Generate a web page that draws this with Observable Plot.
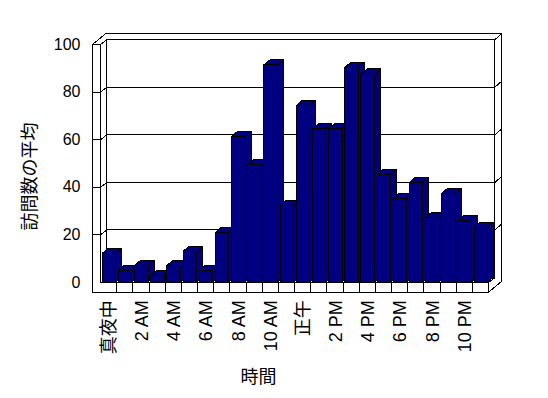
<!DOCTYPE html>
<html>
<head>
<meta charset="utf-8">
<script src="https://cdn.jsdelivr.net/npm/d3@7"></script>
<script src="https://cdn.jsdelivr.net/npm/@observablehq/plot@0.6"></script>
<style>
  html, body { margin: 0; padding: 0; background: #fff; }
  #chart svg { display: block; }
</style>
</head>
<body>
<div id="chart"></div>
<script>
// ---- data ----
const hours = ["真夜中","1 AM","2 AM","3 AM","4 AM","5 AM","6 AM","7 AM","8 AM","9 AM","10 AM","11 AM",
               "正午","1 PM","2 PM","3 PM","4 PM","5 PM","6 PM","7 PM","8 PM","9 PM","10 PM","11 PM"];
const visits = [12.1, 4.9, 7.0, 2.8, 7.0, 12.9, 4.9, 20.9, 61.2, 49.2, 91.2, 32.2,
                74.2, 64.3, 64.3, 90.2, 87.4, 45.3, 35.2, 41.9, 27.2, 37.3, 25.9, 23.0];
const xTickLabels = ["真夜中","2 AM","4 AM","6 AM","8 AM","10 AM","正午","2 PM","4 PM","6 PM","8 PM","10 PM"];
const yTicks = [0, 20, 40, 60, 80, 100];
const xTitle = "時間";
const yTitle = "訪問数の平均";

// ---- geometry (data units) ----
const n = hours.length;
const barL = 0.14, barR = 0.975;     // front face within each category slot
const bdx = 0.371, bdy = 2.1;        // bar depth
const w1x = 0.402, w1y = 2.1;        // back wall inner plane
const w2x = 0.804, w2y = 4.5;        // back wall outer plane
const slabX = -0.495;                // left wall front thickness
const floorY = -4.08;                // floor front thickness
const yMax = 100;

const bars = hours.map((h, i) => ({i, h, v: visits[i]}));
const sides = bars.flatMap(d => [
  {i: d.i, x: d.i + barR, y1: 0, y2: d.v},
  {i: d.i, x: d.i + barR + bdx, y1: bdy, y2: d.v + bdy}
]);
const tops = bars.flatMap(d => [
  {i: d.i, y: d.v, x1: d.i + barL, x2: d.i + barR},
  {i: d.i, y: d.v + bdy, x1: d.i + barL + bdx, x2: d.i + barR + bdx}
]);

// frame line segments
const segs = [];
let sid = 0;
function poly(pts) { const k = sid++; pts.forEach(([x, y]) => segs.push({k, x, y})); }
poly([[slabX, yMax], [slabX + w2x, yMax + w2y], [n + w2x, yMax + w2y], [n + w2x, floorY + w2y],
      [n, floorY], [slabX, floorY], [slabX, yMax]]);
poly([[0, yMax], [0, 0], [n, 0], [n, floorY]]);
poly([[slabX, yMax], [0, yMax], [w1x, yMax + w1y], [n + w1x, yMax + w1y], [n + w2x, yMax + w2y]]);
poly([[w1x, yMax + w1y], [w1x, w1y], [n + w1x, w1y], [n + w1x, yMax + w1y]]);
poly([[n, 0], [n + w1x, w1y]]);
for (const t of yTicks.filter(t => t > 0 && t < yMax)) {
  poly([[slabX, t], [0, t], [w1x, t + w1y], [n + w1x, t + w1y], [n + w2x, t + w2y]]);
}
for (let i = 1; i < n; i++) poly([[i, 0], [i, floorY]]);

const xTickData = xTickLabels.map(label => ({label, i: hours.indexOf(label)}));

const navy = "#000080";
const crisp = {shapeRendering: "crispEdges"};
const chart = Plot.plot({
  width: 548,
  height: 398,
  marginLeft: 100,
  marginRight: 60,
  marginTop: 44,
  marginBottom: 116,
  style: {fontFamily: "'Liberation Sans', 'Noto Sans CJK JP', sans-serif", background: "#fff", color: "#000"},
  x: {type: "linear", domain: [0, n], axis: null},
  y: {type: "linear", domain: [0, yMax], axis: null},
  marks: [
    Plot.line(segs, {x: "x", y: "y", z: "k", stroke: "#000", strokeWidth: 1, curve: "linear", ...crisp}),
    Plot.areaY(sides, {x: "x", y1: "y1", y2: "y2", z: "i", fill: navy, stroke: "#000", strokeWidth: 1, ...crisp}),
    Plot.areaX(tops, {y: "y", x1: "x1", x2: "x2", z: "i", fill: navy, stroke: "#000", strokeWidth: 1, ...crisp}),
    Plot.rect(bars, {x1: d => d.i + barL, x2: d => d.i + barR, y1: 0, y2: "v", fill: navy, stroke: "#000", strokeWidth: 1, ...crisp}),
    Plot.text(yTicks, {x: slabX, y: d => d, text: d => String(d), textAnchor: "end", dx: -12, fontSize: 16}),
    Plot.text(xTickData, {x: d => d.i + (barL + barR) / 2, y: floorY, text: "label", rotate: -90,
      textAnchor: "end", lineAnchor: "middle", dy: 8, fontSize: 18}),
    Plot.text([yTitle], {frameAnchor: "left", text: d => d, rotate: -90, textAnchor: "middle", lineAnchor: "middle",
      dx: -70, dy: 13, fontSize: 18}),
    Plot.text([xTitle], {frameAnchor: "bottom", text: d => d, textAnchor: "middle", lineAnchor: "middle",
      dx: -36, dy: 95, fontSize: 18})
  ]
});
document.getElementById("chart").appendChild(chart);
</script>
</body>
</html>
